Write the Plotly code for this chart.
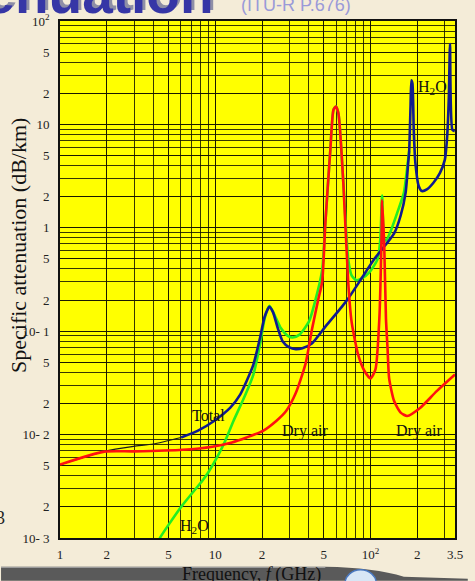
import plotly.graph_objects as go

# ---------------- data ----------------
# Dry air (red)
red_f = [1, 1.93, 2.98, 6.18, 9.57, 12.8, 15.9, 20.3, 24.7, 28.6, 33.0, 38.2, 42.1, 46.2, 48.8,
         51.2, 55.1, 57.7, 59.8, 62.1, 66.8, 71.8, 75.5, 83.1, 91.6, 100, 107.6, 114, 117.9,
         118.75, 122.7, 125.7, 128.7, 131.8, 141.9, 156.4, 172.2, 209.4, 266.9, 350]
red_a = [0.00513, 0.00684, 0.00689, 0.00714, 0.00764, 0.0084, 0.00938, 0.01087, 0.01355, 0.0169,
         0.0252, 0.0489, 0.1067, 0.207, 0.299, 1.127, 5.69, 13.8, 14.9, 12.8, 2.73, 0.299, 0.1236,
         0.0596, 0.041, 0.035, 0.0428, 0.133, 0.904, 1.85, 0.625, 0.133, 0.0685, 0.035, 0.0211,
         0.0163, 0.01515, 0.0182, 0.0263, 0.0381]

# low-frequency (black) part of the "Total" curve
black_f = [1, 1.93, 2.98, 3.99, 6.03]
black_a = [0.00513, 0.00689, 0.00769, 0.00811, 0.00938]

# dark-blue curve
blue_f = [6.03, 7.69, 9.82, 12.5, 14.5, 15.9, 17.6, 19.4, 20.8, 22.3, 23.5, 25.3, 27.2, 30.0, 33.0,
          36.4, 42.1, 51.2, 65.3, 71.8, 87.3, 106, 141.9, 156.4, 168.3, 174.8, 177.4, 181, 183.3,
          186.2, 189.8, 194.5, 204.2, 214.3, 230.6, 254.2, 280.2, 301.2, 311.6, 319.5, 325,
          336.6, 348.6]
blue_a = [0.00938, 0.01087, 0.01355, 0.0182, 0.0245, 0.0328, 0.0475, 0.0855, 0.138, 0.172, 0.154,
          0.1067, 0.0794, 0.0696, 0.067, 0.0685, 0.0766, 0.1107, 0.172, 0.207, 0.322, 0.501,
          0.883, 1.315, 2.19, 4.24, 5.5, 14.9, 26.7, 24.9, 8.86, 4.24, 2.54, 2.27, 2.35, 2.73,
          3.40, 4.56, 7.65, 18.5, 60, 8.86, 8.6]

# green curve
green_f = [4.35, 4.4, 6.03, 8.28, 8.90, 10.55, 11.6, 13.1, 15.5, 17.6, 19.4, 20.8, 22.3, 24.1,
           26.5, 29.3, 31.5, 34.7, 40.1, 44.2, 48.8, 51.2, 55.1, 57.7, 59.8, 62.1, 66.8, 71.8,
           75.5, 81.2, 87.3, 98.6, 111.2, 115.6, 118.75, 122.7, 126.3, 135.2, 148.9, 164.1,
           172.2, 177.4]
green_a = [0.00095, 0.001, 0.0020, 0.0036, 0.00418, 0.0065, 0.00872, 0.01355, 0.0236, 0.0381,
           0.074, 0.133, 0.176, 0.1434, 0.1067, 0.0902, 0.0869, 0.0921, 0.1236, 0.201, 0.39,
           1.127, 5.69, 13.8, 14.9, 12.8, 2.73, 0.501, 0.347, 0.311, 0.322, 0.373, 0.501, 0.779,
           2.05, 0.779, 0.757, 0.938, 1.41, 2.19, 3.80, 5.53]

# tick labels
x_tickvals = [1, 2, 5, 10, 20, 50, 100, 200, 350]
x_ticktext = ["1", "2", "5", "10", "2", "5", "10<sup>2</sup>", "2", "3.5"]
y_tickvals = [0.001, 0.002, 0.005, 0.01, 0.02, 0.05, 0.1, 0.2, 0.5, 1, 2, 5, 10, 20, 50, 100]
y_ticktext = ["10- 3", "2", "5", "10- 2", "2", "5", "10- 1", "2", "5", "1", "2", "5", "10", "2",
              "5", "10<sup>2</sup>"]
x_minor = [m * 10 ** d for d in range(0, 3) for m in range(1, 10) if m * 10 ** d <= 350]
y_minor = [m * 10 ** d for d in range(-3, 2) for m in range(1, 10)] + [100]

# ---------------- figure ----------------
W, H = 475, 581
L, R, T, B = 60, 13, 17, 43


def px(x):
    return (x - L) / (W - L - R)


def py(y):
    return (H - B - y) / (H - T - B)


SERIF = "Liberation Serif, Times New Roman, serif"
fig = go.Figure()
spl = dict(shape="spline", smoothing=0.6)
fig.add_trace(go.Scatter(x=green_f, y=green_a, mode="lines",
                         line=dict(color="#22ee22", width=2.6, **spl), hoverinfo="skip"))
fig.add_trace(go.Scatter(x=black_f, y=black_a, mode="lines",
                         line=dict(color="#1a1a1a", width=1.2, **spl), hoverinfo="skip"))
fig.add_trace(go.Scatter(x=blue_f, y=blue_a, mode="lines",
                         line=dict(color="#0f1a90", width=2.6, **spl), hoverinfo="skip"))
fig.add_trace(go.Scatter(x=red_f, y=red_a, mode="lines",
                         line=dict(color="#ff1010", width=2.6, **spl), hoverinfo="skip"))

grid = "rgba(20,20,0,0.85)"
fig.update_xaxes(type="log", range=[0, 2.54407], tickmode="array", tickvals=x_tickvals,
                 ticktext=x_ticktext, showgrid=True, gridcolor=grid, gridwidth=1.3,
                 minor=dict(tickmode="array", tickvals=x_minor, showgrid=True,
                            gridcolor=grid, gridwidth=1.3, ticks=""),
                 showline=True, linecolor="#111", linewidth=1.6, mirror=True, ticks="",
                 zeroline=False, tickfont=dict(family=SERIF, size=13, color="#222"),
                 ticklabelstandoff=4)
fig.update_yaxes(type="log", range=[-3, 2], tickmode="array", tickvals=y_tickvals,
                 ticktext=y_ticktext, showgrid=True, gridcolor=grid, gridwidth=1.3,
                 minor=dict(tickmode="array", tickvals=y_minor, showgrid=True,
                            gridcolor=grid, gridwidth=1.3, ticks=""),
                 showline=True, linecolor="#111", linewidth=1.6, mirror=True, ticks="",
                 zeroline=False, tickfont=dict(family=SERIF, size=13, color="#222"),
                 ticklabelstandoff=6)

ann = []
lab_font = dict(family=SERIF, size=16, color="#111")
ann.append(dict(x=0.9557, y=-1.8196, xref="x", yref="y", text="Total", showarrow=False,
                font=lab_font))
ann.append(dict(x=1.576, y=-1.964, xref="x", yref="y", text="Dry air", showarrow=False,
                font=lab_font))
ann.append(dict(x=2.310, y=-1.964, xref="x", yref="y", text="Dry air", showarrow=False,
                font=lab_font))
ann.append(dict(x=0.867, y=-2.89, xref="x", yref="y", text="H<sub>2</sub>O", showarrow=False,
                font=lab_font))
ann.append(dict(x=2.40, y=1.36, xref="x", yref="y", text="H<sub>2</sub>O", showarrow=False,
                font=lab_font))
# axis titles
ann.append(dict(x=px(18), y=py(243), xref="paper", yref="paper", text="Specific attenuation (dB/km)",
                textangle=-90, showarrow=False, xanchor="center", yanchor="middle",
                font=dict(family=SERIF, size=22, color="#111")))
# page fragments
ann.append(dict(x=px(-1), y=py(518), xref="paper", yref="paper", text="3", showarrow=False,
                xanchor="center", yanchor="middle", font=dict(family=SERIF, size=18, color="#222")))
# title fragments (cut off by the page top)
ann.append(dict(x=px(222), y=py(20), xref="paper", yref="paper", text="<b>Attenuation</b>",
                showarrow=False, xanchor="right", yanchor="bottom",
                font=dict(family="Liberation Sans", size=55, color="#8e8ea6")))
ann.append(dict(x=px(219), y=py(23), xref="paper", yref="paper", text="<b>Attenuation</b>",
                showarrow=False, xanchor="right", yanchor="bottom",
                font=dict(family="Liberation Sans", size=55, color="#3636a6")))
ann.append(dict(x=px(242), y=py(13), xref="paper", yref="paper", text="(ITU-R P.676)",
                showarrow=False, xanchor="left", yanchor="bottom",
                font=dict(family="Liberation Sans", size=18, color="#9a9ad8")))

shapes = []
# bottom bar of the slide
bar = (f"M {px(0)},{py(567)} L {px(330)},{py(567)} Q {px(380)},{py(568)} {px(410)},{py(577)} "
       f"L {px(475)},{py(579)} L {px(475)},{py(581)} L {px(0)},{py(581)} Z")
shapes.append(dict(type="path", path=bar, xref="paper", yref="paper", layer="below",
                   fillcolor="#5a5a5a", line=dict(width=0)))
shapes.append(dict(type="line", x0=px(0), x1=px(330), y0=py(567.5), y1=py(567.5), xref="paper",
                   yref="paper", line=dict(color="#b0b0b0", width=1)))
shapes.append(dict(type="circle", x0=px(350), x1=px(382), y0=py(570), y1=py(598), xref="paper",
                   yref="paper", fillcolor="#d8e6f5", line=dict(color="#4a78c0", width=1.5)))

ann.append(dict(x=px(255), y=py(562), xref="paper", yref="paper",
                text="Frequency, <i>f</i> (GHz)", showarrow=False, yanchor="top",
                font=dict(family=SERIF, size=18, color="#111")))

fig.update_layout(width=W, height=H, margin=dict(l=L, r=R, t=T, b=B, pad=0),
                  paper_bgcolor="#f4ecd8", plot_bgcolor="#ffff00", showlegend=False,
                  annotations=ann, shapes=shapes)

fig.write_html("out.html", config={"displayModeBar": False},
               post_script="document.body.style.margin='0';document.body.style.overflow='hidden';")
